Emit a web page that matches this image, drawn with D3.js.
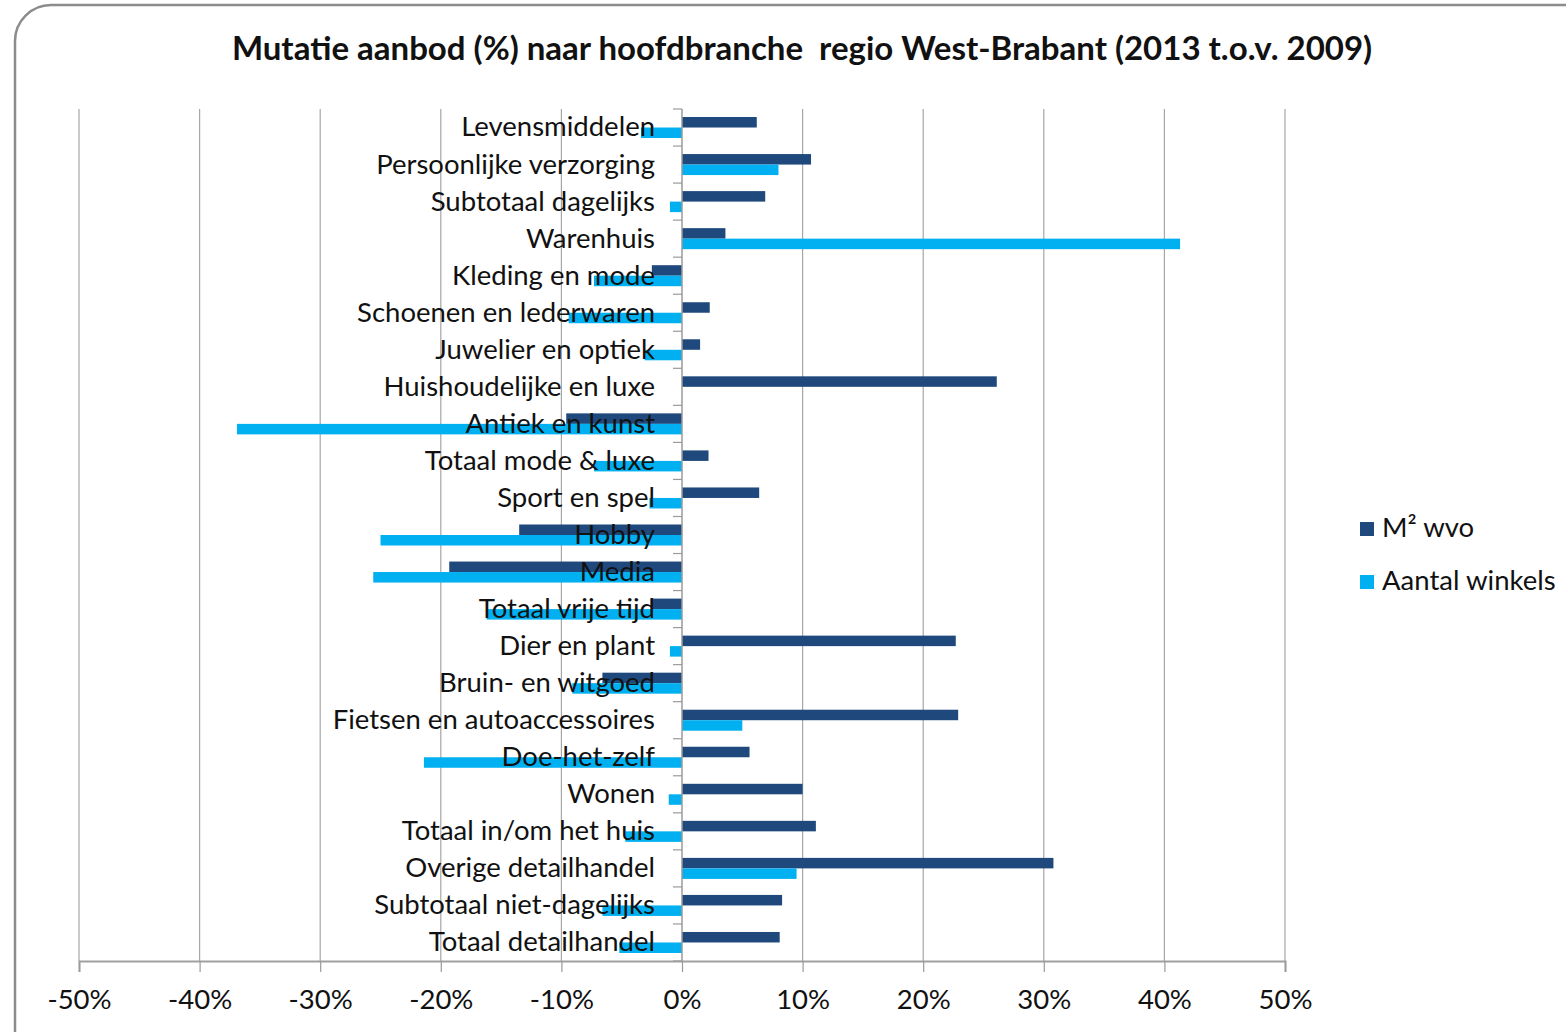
<!DOCTYPE html>
<html>
<head>
<meta charset="utf-8">
<script src="https://cdn.jsdelivr.net/npm/d3@7"></script>
<style>
  body { margin: 0; background: #fff; }
  svg { display: block; font-family: Lato, "Open Sans", sans-serif; }
</style>
</head>
<body>
<div id="chart"></div>
<script>
// data (percent change 2013 vs 2009)
const categories = [
  "Levensmiddelen", "Persoonlijke verzorging", "Subtotaal dagelijks", "Warenhuis",
  "Kleding en mode", "Schoenen en lederwaren", "Juwelier en optiek", "Huishoudelijke en luxe",
  "Antiek en kunst", "Totaal mode & luxe", "Sport en spel", "Hobby", "Media",
  "Totaal vrije tijd", "Dier en plant", "Bruin- en witgoed", "Fietsen en autoaccessoires",
  "Doe-het-zelf", "Wonen", "Totaal in/om het huis", "Overige detailhandel",
  "Subtotaal niet-dagelijks", "Totaal detailhandel"
];
const m2wvo = [6.2, 10.7, 6.9, 3.6, -2.5, 2.3, 1.5, 26.1, -9.6, 2.2, 6.4, -13.5, -19.3,
  -2.6, 22.7, -6.6, 22.9, 5.6, 10.0, 11.1, 30.8, 8.3, 8.1];
const aantalWinkels = [-3.4, 8.0, -1.0, 41.3, -7.3, -9.4, -3.1, 0, -36.9, -7.3, -2.7, -25.0, -25.6,
  -16.2, -1.0, -9.1, 5.0, -21.4, -1.1, -4.7, 9.5, -6.6, -5.2];
const seriesNames = ["M² wvo", "Aantal winkels"];
const seriesColors = ["#1f497d", "#00b0f0"];
const xTicks = [-50, -40, -30, -20, -10, 0, 10, 20, 30, 40, 50];

const width = 1566, height = 1032;
const margin = { top: 109, bottom: 71, left: 79, right: 281 };
const fontSize = 27.5;

const svg = d3.select("#chart").append("svg")
  .attr("width", width)
  .attr("height", height);

// chart frame (rounded corner, runs off the right/bottom edge)
svg.append("rect")
  .attr("x", 15).attr("y", 5)
  .attr("width", 1600).attr("height", 1100)
  .attr("rx", 36).attr("ry", 36)
  .attr("fill", "#fff")
  .attr("stroke", "#8c8c8c")
  .attr("stroke-width", 2.5);

svg.append("text")
  .attr("x", 802).attr("y", 52)
  .attr("text-anchor", "middle")
  .attr("dominant-baseline", "middle")
  .attr("font-size", 33)
  .attr("font-weight", "bold")
  .attr("fill", "#111")
  .style("white-space", "pre")
  .text("Mutatie aanbod (%) naar hoofdbranche  regio West-Brabant (2013 t.o.v. 2009)");

const x = d3.scaleLinear().domain([-50, 50]).range([margin.left, width - margin.right]);
const y = d3.scaleBand().domain(categories)
  .range([margin.top, height - margin.bottom])
  .paddingInner(0.433).paddingOuter(0.2165);
const ySub = d3.scaleBand().domain([0, 1]).range([0, y.bandwidth()]);

const rows = categories.map((c, i) => ({ cat: c, vals: [m2wvo[i], aantalWinkels[i]] }));

// vertical gridlines
svg.append("g")
  .selectAll("line")
  .data(xTicks.filter(d => d !== 0))
  .join("line")
  .attr("x1", d => x(d)).attr("x2", d => x(d))
  .attr("y1", margin.top).attr("y2", height - margin.bottom)
  .attr("stroke", "#a6a6a6")
  .attr("stroke-width", 1.2);

// bars
svg.append("g")
  .selectAll("g")
  .data(rows)
  .join("g")
  .attr("transform", d => `translate(0,${y(d.cat)})`)
  .selectAll("rect")
  .data(d => d.vals.map((v, k) => ({ v, k })))
  .join("rect")
  .attr("x", d => x(Math.min(0, d.v)))
  .attr("width", d => Math.abs(x(d.v) - x(0)))
  .attr("y", d => ySub(d.k))
  .attr("height", ySub.bandwidth())
  .attr("fill", d => seriesColors[d.k]);

// bottom axis
const xAxis = d3.axisBottom(x).tickValues(xTicks).tickSize(11).tickPadding(17)
  .tickFormat(d => d + "%");
const gx = svg.append("g")
  .attr("transform", `translate(0,${height - margin.bottom})`)
  .call(xAxis);
gx.select(".domain").attr("stroke", "#a0a0a0").attr("stroke-width", 2);
gx.selectAll(".tick line").attr("stroke", "#9a9a9a").attr("stroke-width", 1.2);
gx.selectAll(".tick text")
  .attr("font-size", fontSize)
  .attr("font-family", "Lato, sans-serif")
  .attr("fill", "#111");

// category axis at 0 with ticks between categories
const bounds = categories.map(c => y(c) - y.step() * y.paddingInner() / 2);
bounds.push(height - margin.bottom);
svg.append("line")
  .attr("x1", x(0)).attr("x2", x(0))
  .attr("y1", margin.top).attr("y2", height - margin.bottom)
  .attr("stroke", "#9a9a9a").attr("stroke-width", 1.5);
svg.append("g")
  .selectAll("line")
  .data(bounds)
  .join("line")
  .attr("x1", x(0) - 9).attr("x2", x(0))
  .attr("y1", d => d).attr("y2", d => d)
  .attr("stroke", "#9a9a9a").attr("stroke-width", 1.2);

// category labels (drawn over the bars)
svg.append("g")
  .selectAll("text")
  .data(categories)
  .join("text")
  .attr("x", x(0) - 27)
  .attr("y", d => y(d) + y.bandwidth() / 2 + 2)
  .attr("text-anchor", "end")
  .attr("dominant-baseline", "middle")
  .attr("font-size", fontSize)
  .attr("fill", "#111")
  .text(d => d);

// legend
const legend = svg.append("g")
  .selectAll("g")
  .data(seriesNames)
  .join("g")
  .attr("transform", (d, i) => `translate(1360,${529 + i * 53})`);
legend.append("rect")
  .attr("x", 0).attr("y", -7)
  .attr("width", 14).attr("height", 14)
  .attr("fill", (d, i) => seriesColors[i]);
legend.append("text")
  .attr("x", 22).attr("y", 1)
  .attr("dominant-baseline", "middle")
  .attr("font-size", fontSize)
  .attr("fill", "#111")
  .text(d => d);
</script>
</body>
</html>
